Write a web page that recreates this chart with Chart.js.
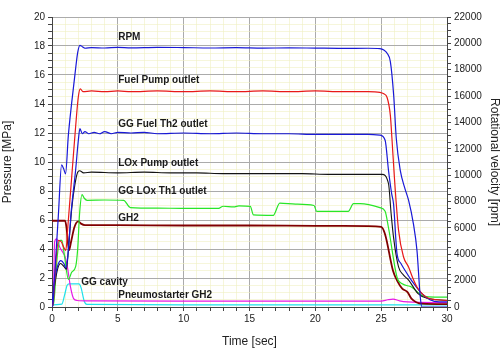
<!DOCTYPE html>
<html><head><meta charset="utf-8">
<script src="https://cdn.jsdelivr.net/npm/chart.js@4/dist/chart.umd.min.js"></script>
<style>html,body{margin:0;padding:0;background:#fff}</style>
</head><body>
<canvas id="c" width="502" height="349"></canvas>
<script>
// ---- data (time [s], pressure [MPa] / rpm) ----
const rpmT = [0,0.05,0.2,0.48,0.73,0.88,1.03,1.24,1.49,1.75,1.95,2.12,2.3,2.5,3,4,5,6,8,10,12,14,16,18,20,22,24,24.9,25.2,25.45,25.7,25.95,26.15,26.45,26.8,27.08,27.45,27.72,27.97,28.1,30];
const rpmV = [0,0,2400,6900,10780,10500,10100,13000,15450,17700,19300,19850,19750,19630,19680,19650,19700,19660,19700,19680,19650,19680,19640,19660,19640,19620,19630,19600,19500,19250,18600,16060,12760,10370,9000,8100,6300,4290,760,0,0];

const fpT = [0,0.1,0.3,0.5,0.7,0.9,1.05,1.2,1.5,1.8,2.0,2.15,2.35,3,4,5,6,8,10,12,14,16,18,20,22,24,24.9,25.2,25.45,25.7,25.82,26.0,26.32,26.7,27.08,27.4,27.72,28.1,28.6,29.3,30];
const fpV = [0,0.3,3.2,4.6,4.5,4.1,3.9,5.5,9.0,12.5,14.5,15.05,14.85,14.9,14.85,14.9,14.85,14.9,14.85,14.9,14.85,14.9,14.85,14.9,14.85,14.85,14.8,14.7,14.45,13.2,11.6,9.0,5.3,3.45,2.76,2.0,1.38,0.92,0.6,0.5,0.45];

const ggfT = [0,0.15,0.45,0.68,0.9,1.05,1.2,1.45,1.8,2.0,2.12,2.3,2.5,2.8,3.2,3.6,4.0,4.5,5,6,7,8,10,12,14,16,18,20,22,24,24.9,25.3,25.56,25.8,25.94,26.2,26.5,26.83,27.3,28.1,28.7,29.4,30];
const ggfV = [0,1.5,2.9,3.2,3.0,2.7,3.5,6.5,9.5,11.5,12.3,11.95,12.1,11.95,12.05,11.95,12.1,11.95,12.05,12.0,12.05,11.95,12.0,11.95,12.0,11.95,11.95,11.9,11.9,11.9,11.85,11.5,9.4,7.8,7.1,3.7,3.0,2.5,1.84,0.92,0.5,0.35,0.35];

const loxT = [0,0.2,0.45,0.65,0.9,1.1,1.25,1.5,1.75,1.95,2.1,2.4,3,5,7,9,11,13,15,17,19,21,23,25.06,25.56,25.75,25.94,26.32,26.7,27.1,27.8,28.5,30];
const loxV = [0,1.5,2.7,3.0,2.8,2.6,4.0,6.8,8.5,9.3,9.4,9.25,9.3,9.25,9.3,9.25,9.25,9.2,9.2,9.2,9.2,9.15,9.15,9.15,8.5,6.5,4.8,2.76,2.2,1.84,0.92,0.6,0.45];

const gloxT = [0,0.15,0.4,0.6,0.75,0.95,1.25,1.5,1.8,1.95,2.1,2.28,2.45,2.66,4,5.44,5.95,8,10,12.65,13.0,13.8,14.2,15.06,15.3,16.8,17.3,18.5,19.9,20.1,22.5,22.9,23.4,24.9,25.3,25.55,26.2,26.6,27.3,28.1,28.6,30];
const gloxV = [0,0.4,3.5,4.6,4.6,3.5,1.9,2.4,2.8,4.0,6.5,7.75,7.5,7.36,7.38,7.36,6.86,6.82,6.8,6.8,6.95,6.9,6.98,6.94,6.35,6.32,7.17,7.1,7.0,6.6,6.6,7.13,7.13,6.85,6.6,5.5,2.07,1.6,1.38,0.8,0.7,0.68];

const gh2T = [0,0.5,0.99,1.1,1.29,1.45,1.7,2.0,2.2,2.5,5,10,15,20,24,25.0,25.3,25.9,26.2,26.6,27.0,27.3,28.1,30];
const gh2V = [5.95,5.95,5.95,5.5,3.9,4.5,5.5,5.9,5.75,5.65,5.65,5.62,5.62,5.6,5.58,5.52,5.0,2.5,1.84,1.27,1.03,0.58,0.23,0.2];

const pnT = [0,0.1,0.2,0.35,0.6,0.8,1.0,1.2,1.4,1.64,1.9,3,10,20,25,25.5,25.9,26.4,27,30];
const pnV = [0,0.5,4.5,4.7,4.1,3.8,3.45,2.6,1.4,0.58,0.45,0.42,0.4,0.4,0.4,0.5,0.55,0.42,0.35,0.3];

const gcT = [0,0.1,0.75,0.95,1.15,1.3,2.05,2.2,2.45,2.65,10,20,30];
const gcV = [0,0.15,0.2,0.8,1.5,1.6,1.6,1.35,0.4,0.18,0.15,0.15,0.15];

const xTicks = [0,5,10,15,20,25,30];
const yTicks = [0,2,4,6,8,10,12,14,16,18,20];
const y2Ticks = [0,2000,4000,6000,8000,10000,12000,14000,16000,18000,20000,22000];

const annText = ["RPM","Fuel Pump outlet","GG Fuel Th2 outlet","LOx Pump outlet","GG LOx Th1 outlet","GH2","GG cavity","Pneumostarter GH2"];
const annT = [5.03,5.03,5.03,5.03,5.03,5.03,2.22,5.03];
const annP = [18.6,15.64,12.6,9.91,7.98,6.12,1.70,0.81];

function pts(t, v){ return t.map((x,i)=>({x:x, y:v[i]})); }

function ds(label, t, v, color, w, axis){
  return {label, data: pts(t,v), borderColor: color, backgroundColor: color,
    borderWidth: w, pointRadius: 0, fill: false, yAxisID: axis || 'y',
    cubicInterpolationMode: 'monotone'};
}

const labelsPlugin = {
  id: 'labels',
  afterDatasetsDraw(chart){
    const {ctx, scales} = chart;
    ctx.save();
    ctx.font = 'bold 10px "Liberation Sans", Arial, sans-serif';
    ctx.fillStyle = '#1a1a1a';
    ctx.textAlign = 'left';
    ctx.textBaseline = 'middle';
    annText.forEach((s,i)=>{
      ctx.fillText(s, scales.x.getPixelForValue(annT[i]), scales.y.getPixelForValue(annP[i]));
    });
    ctx.restore();
  }
};

const font = {family: '"Liberation Sans", Arial, sans-serif', size: 10};
const minorGrid = 'rgba(240,240,195,0.6)';
const majorGrid = '#ababab';

new Chart(document.getElementById('c'), {
  type: 'line',
  data: { datasets: [
    ds('RPM', rpmT, rpmV, 'rgb(25,25,215)', 1.2, 'y2'),
    ds('Fuel Pump outlet', fpT, fpV, 'rgb(232,25,25)', 1.2),
    ds('GG Fuel Th2 outlet', ggfT, ggfV, 'rgb(25,25,215)', 1.2),
    ds('LOx Pump outlet', loxT, loxV, 'rgb(20,20,20)', 1.1),
    ds('GG LOx Th1 outlet', gloxT, gloxV, 'rgb(40,230,40)', 1.2),
    ds('GH2', gh2T, gh2V, 'rgb(128,0,0)', 1.8),
    ds('Pneumostarter GH2', pnT, pnV, 'rgb(230,25,230)', 1.2),
    ds('GG cavity', gcT, gcV, 'rgb(30,225,235)', 1.2)
  ]},
  options: {
    responsive: false, animation: false,
    layout: {padding: {top: 17, left: 0, right: 0, bottom: 0}},
    plugins: {legend: {display: false}, tooltip: {enabled: false}},
    scales: {
      x: {type: 'linear', min: 0, max: 30,
        afterFit: s => { s.height = 42; },
        afterBuildTicks: s => { const a=[]; for(let v=0; v<=30; v+=1) a.push({value:v}); s.ticks = a; },
        ticks: {autoSkip: false, maxRotation: 0, font, color: '#222', padding: 2,
          callback: v => xTicks.includes(v) ? String(v) : ''},
        grid: {color: c => (c.tick && xTicks.includes(c.tick.value)) ? majorGrid : minorGrid,
          tickColor: '#444', tickLength: 4, lineWidth: 1},
        border: {color: '#444'},
        title: {display: true, text: 'Time [sec]', font: {family: font.family, size: 12}, color: '#222', padding: {top: 6, bottom: 0}}
      },
      y: {position: 'left', min: 0, max: 20,
        afterFit: s => { s.width = 52; },
        afterBuildTicks: s => { const a=[]; for(let v=0; v<=20; v+=0.5) a.push({value:v}); s.ticks = a; },
        ticks: {autoSkip: false, font, color: '#222', padding: 3,
          callback: v => yTicks.includes(v) ? String(v) : ''},
        grid: {color: c => (c.tick && yTicks.includes(c.tick.value)) ? majorGrid : minorGrid,
          tickColor: '#444', tickLength: 4, lineWidth: 1},
        border: {color: '#444'},
        title: {display: true, text: 'Pressure [MPa]', font: {family: font.family, size: 12}, color: '#222', padding: {top: 0, bottom: 2}}
      },
      y2: {position: 'right', min: 0, max: 22000,
        afterFit: s => { s.width = 55; },
        afterBuildTicks: s => { const a=[]; for(let v=0; v<=22000; v+=500) a.push({value:v}); s.ticks = a; },
        ticks: {autoSkip: false, font, color: '#222', padding: 3,
          callback: v => y2Ticks.includes(v) ? String(v) : ''},
        grid: {drawOnChartArea: false, tickColor: '#444', tickLength: 4},
        border: {color: '#444'},
        title: {display: true, text: 'Rotational velocity [rpm]', font: {family: font.family, size: 12}, color: '#222', padding: {top: 0, bottom: 2}}
      }
    }
  },
  plugins: [labelsPlugin]
});
</script>
</body></html>
